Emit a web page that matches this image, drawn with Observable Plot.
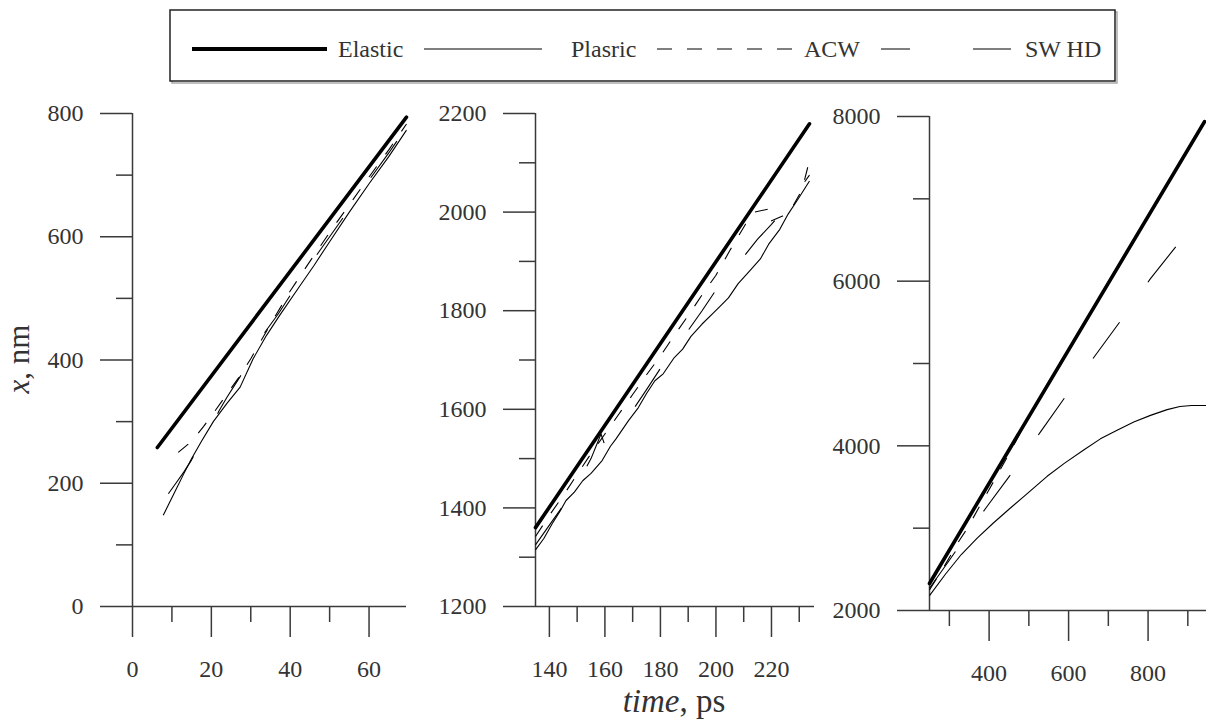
<!DOCTYPE html>
<html>
<head>
<meta charset="utf-8">
<script src="https://cdn.jsdelivr.net/npm/d3@7"></script>
<script src="https://cdn.jsdelivr.net/npm/@observablehq/plot@0.6"></script>
<style>
  html, body { margin: 0; padding: 0; background: #fff; }
  #root { position: relative; width: 1206px; height: 720px; overflow: hidden;
          font-family: "Liberation Serif", "Times New Roman", serif; }
  .panel { position: absolute; }
  #overlay { position: absolute; left: 0; top: 0; pointer-events: none; }
</style>
</head>
<body>
<div id="root"></div>
<script>
// ---------- data ----------
const seriesNames = ["Elastic", "Plasric", "ACW", "SW HD"];

// Panel 1 : time (ps) , x (nm)
const p1Elastic = [[6.3,258],[69.5,794]];
const p1Plastic = [[7.8,148],[10.5,183],[12.9,214],[15,240],[17.5,268],[20.5,300],[24,330],[27.3,356],[30.6,402],[34,440],[37.5,474],[42,516],[46,553],[50,592],[55,640],[60,686],[65,730],[69.5,773]];
const p1ACW = [[11.6,250],[15,268],[18,292],[21,318],[24,345],[27,372],[30,402],[35,458],[40,512],[45,560],[50,607],[55,652],[60,697],[65,741],[69.5,783]];
const p1SWHD = [[9.1,183],[11,200],[13,218],[15,238],[17,262],[20,292],[22,318],[24,340],[26,360],[28,380],[30,412],[33,440],[37,475],[41,515],[45,555],[50,600],[55,645],[60,692],[65,736],[69.5,778]];

// Panel 2
const p2Elastic = [[135,1360],[233.7,2179]];
const p2Plastic = [[135,1315],[138,1338],[141,1368],[144,1395],[146,1415],[149,1432],[152,1455],[155,1470],[159,1496],[162,1525],[164,1540],[168.5,1577],[172,1603],[175,1632],[178,1658],[181,1672],[185,1705],[188,1722],[191,1748],[195,1773],[199,1795],[202,1812],[204.5,1826],[208,1855],[212,1880],[216,1905],[219,1935],[223,1965],[226,1996],[230,2030],[233.7,2063]];
const p2ACW = [[135,1342],[140,1385],[145,1425],[150,1468],[155,1510],[160,1550],[165,1590],[170,1630],[175,1670],[180,1708],[185,1750],[190,1790],[195,1832],[200,1872],[205,1922],[210.7,1976],[214,2000],[219.5,2007],[219.8,1982],[224,1992],[227,2005],[231,2045],[233.7,2105]];
const p2SWHD = [[135,1325],[140,1365],[145,1405],[150,1448],[155,1500],[158.6,1550],[159.8,1530],[165,1565],[170,1598],[175,1640],[180,1683],[185,1722],[190,1760],[195,1800],[200,1842],[205,1878],[209.6,1907],[215,1945],[220,1975],[226,2015],[233.7,2075]];

// Panel 3
const p3Elastic = [[250,2328],[942,7938]];
const p3Plastic = [[250,2180],[290,2440],[330,2680],[370,2880],[410,3060],[450,3230],[490,3395],[546,3630],[590,3790],[638,3950],[680,4085],[722,4190],[764,4290],[806,4370],[848,4440],[880,4478],[910,4490],[947,4490]];
const p3ACW = [[250,2250],[290,2560],[320,2814],[345,2996],[380,3300],[420,3640],[460,3990],[500,4355],[942,7938]];
const p3SWHD = [[250,2270],[300,2610],[350,2960],[391,3239],[458,3676],[528,4161],[594,4611],[667,5097],[735,5546],[806,6031],[876,6456]];

// tick values
const p1XMajor = [0,20,40,60], p1XMinor = [10,30,50];
const p1YMajor = [0,200,400,600,800], p1YMinor = [100,300,500,700];
const p2XMajor = [140,160,180,200,220], p2XMinor = [150,170,190,210,230];
const p2YMajor = [1200,1400,1600,1800,2000,2200], p2YMinor = [1300,1500,1700,1900,2100];
const p3XMajor = [400,600,800], p3XMinor = [300,500,700,900];
const p3YMajor = [2000,4000,6000,8000], p3YMinor = [3000,5000,7000];

// ---------- styles ----------
const lineWidths = [3.6, 1.1, 1.1, 1.1];
const lineDashes = [null, null, "13,15", "45,49"];
const axisColor = "#3a3a3a";
const FONT = "'Liberation Serif', 'Times New Roman', serif";

const panels = [
  {left: 0,   top: 90, width: 410, height: 600, mL: 132, mR: 4, mT: 23, mB: 84,
   xDomain: [0, 69.5], yDomain: [0, 800],
   xMajor: p1XMajor, xMinor: p1XMinor, yMajor: p1YMajor, yMinor: p1YMinor,
   series: [p1Elastic, p1Plastic, p1ACW, p1SWHD]},
  {left: 410, top: 90, width: 408, height: 600, mL: 125, mR: 4, mT: 23, mB: 84,
   xDomain: [135, 235.5], yDomain: [1200, 2200],
   xMajor: p2XMajor, xMinor: p2XMinor, yMajor: p2YMajor, yMinor: p2YMinor,
   series: [p2Elastic, p2Plastic, p2ACW, p2SWHD]},
  {left: 818, top: 90, width: 388, height: 600, mL: 111, mR: 0, mT: 26, mB: 80,
   xDomain: [250, 947], yDomain: [2000, 8000],
   xMajor: p3XMajor, xMinor: p3XMinor, yMajor: p3YMajor, yMinor: p3YMinor,
   series: [p3Elastic, p3Plastic, p3ACW, p3SWHD]}
];

const root = document.getElementById("root");

panels.forEach(p => {
  const lineMarks = [];
  // draw thin series first, elastic last (on top)
  [1, 2, 3, 0].forEach(i => {
    lineMarks.push(Plot.line(p.series[i], {
      x: d => d[0], y: d => d[1],
      stroke: "#000",
      strokeWidth: lineWidths[i],
      strokeDasharray: lineDashes[i] || undefined,
      strokeLinecap: i === 0 ? "round" : "butt",
      strokeLinejoin: "round"
    }));
  });
  const chart = Plot.plot({
    width: p.width, height: p.height,
    marginLeft: p.mL, marginRight: p.mR, marginTop: p.mT, marginBottom: p.mB,
    x: {domain: p.xDomain},
    y: {domain: p.yDomain},
    style: {fontFamily: FONT, fontSize: "24px", background: "transparent", overflow: "visible"},
    marks: [
      Plot.ruleX([p.xDomain[0]], {stroke: axisColor, strokeWidth: 1.5}),
      Plot.ruleY([p.yDomain[0]], {stroke: axisColor, strokeWidth: 1.5}),
      Plot.axisY({ticks: p.yMajor, tickSize: 32, tickPadding: 17, tickFormat: d => String(d),
                  label: null, fontSize: 24, stroke: axisColor, fill: "#333", strokeWidth: 1.5}),
      Plot.axisY({ticks: p.yMinor, tickSize: 16, tickFormat: () => "",
                  label: null, stroke: axisColor, strokeWidth: 1.5}),
      Plot.axisX({ticks: p.xMajor, tickSize: 31, tickPadding: 22, tickFormat: d => String(d),
                  label: null, fontSize: 24, stroke: axisColor, fill: "#333", strokeWidth: 1.5}),
      Plot.axisX({ticks: p.xMinor, tickSize: 16, tickFormat: () => "",
                  label: null, stroke: axisColor, strokeWidth: 1.5}),
      ...lineMarks
    ]
  });
  chart.classList.add("panel");
  chart.style.left = p.left + "px";
  chart.style.top = p.top + "px";
  root.appendChild(chart);
});

// ---------- overlay: legend + axis titles ----------
const svg = d3.select(root).append("svg")
  .attr("id", "overlay").attr("width", 1206).attr("height", 720)
  .style("font-family", FONT);

// legend box with shadow
svg.append("rect").attr("x", 172).attr("y", 12).attr("width", 945).attr("height", 71)
  .attr("fill", "none").attr("stroke", "#aaa").attr("stroke-width", 1.5);
svg.append("rect").attr("x", 170).attr("y", 10).attr("width", 945).attr("height", 71)
  .attr("fill", "#fff").attr("stroke", "#222").attr("stroke-width", 1.5);

const legLine = [[192, 327], [424, 542], [657, 792], [881, 1011]];
const legText = [338, 571, 804, 1025];
const legDash = [null, null, "15,15", "29,63,38,100"];
const legWidth = [4, 1.6, 1.6, 1.6];
const legColor = ["#000", "#555", "#555", "#555"];
const legY = 49;
seriesNames.forEach((name, i) => {
  svg.append("line")
    .attr("x1", legLine[i][0]).attr("x2", legLine[i][1])
    .attr("y1", legY).attr("y2", legY)
    .attr("stroke", legColor[i]).attr("stroke-width", legWidth[i])
    .attr("stroke-dasharray", legDash[i]);
  svg.append("text").attr("x", legText[i]).attr("y", 57)
    .attr("font-size", 24).attr("fill", "#333").text(name);
});

// x axis title
const xt = svg.append("text").attr("x", 674).attr("y", 712)
  .attr("text-anchor", "middle").attr("font-size", 33).attr("fill", "#333");
xt.append("tspan").attr("font-style", "italic").text("time");
xt.append("tspan").text(", ps");

// y axis title
const yt = svg.append("text").attr("transform", "translate(29,359) rotate(-90)")
  .attr("text-anchor", "middle").attr("font-size", 31).attr("fill", "#333");
yt.append("tspan").attr("font-style", "italic").text("x");
yt.append("tspan").text(", nm");
</script>
</body>
</html>
